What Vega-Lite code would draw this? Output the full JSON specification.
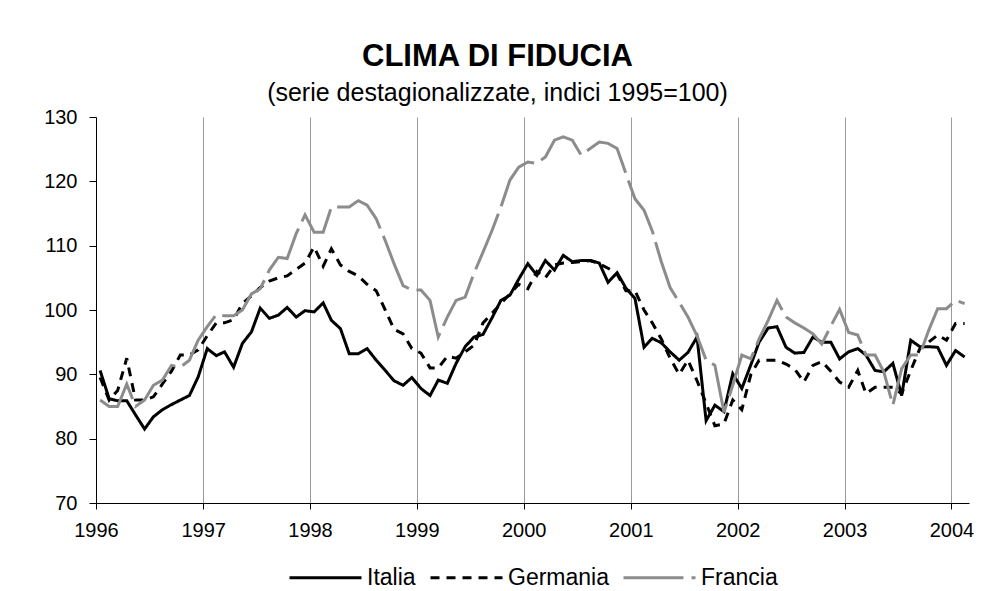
{
"$schema": "https://vega.github.io/schema/vega-lite/v6.json",
"width": 873,
"height": 386,
"padding": {"left": 43, "top": 41, "right": 16, "bottom": 0},
"background": "white",
"config": {"view": {"stroke": null}, "font": "Liberation Sans", "legend": {"layout": {"bottom": {"anchor": "middle"}}}},
"title": {"text": "CLIMA DI FIDUCIA", "subtitle": "(serie destagionalizzate, indici 1995=100)", "fontSize": 31, "fontWeight": "bold", "subtitleFontSize": 25, "subtitlePadding": 8, "color": "black", "subtitleColor": "black", "anchor": "middle", "frame": "group", "offset": 0, "dx": -35},
"data": {"values": [
{"mese":"1996-01-15","paese":"Italia","indice":90.6},{"mese":"1996-02-15","paese":"Italia","indice":86.2},{"mese":"1996-03-15","paese":"Italia","indice":85.9},{"mese":"1996-04-15","paese":"Italia","indice":85.9},{"mese":"1996-05-15","paese":"Italia","indice":83.7},{"mese":"1996-06-15","paese":"Italia","indice":81.5},{"mese":"1996-07-15","paese":"Italia","indice":83.4},{"mese":"1996-08-15","paese":"Italia","indice":84.5},{"mese":"1996-09-15","paese":"Italia","indice":85.3},{"mese":"1996-10-15","paese":"Italia","indice":86.0},{"mese":"1996-11-15","paese":"Italia","indice":86.7},{"mese":"1996-12-15","paese":"Italia","indice":89.6},
{"mese":"1997-01-15","paese":"Italia","indice":94.0},{"mese":"1997-02-15","paese":"Italia","indice":92.9},{"mese":"1997-03-15","paese":"Italia","indice":93.5},{"mese":"1997-04-15","paese":"Italia","indice":91.1},{"mese":"1997-05-15","paese":"Italia","indice":94.8},{"mese":"1997-06-15","paese":"Italia","indice":96.6},{"mese":"1997-07-15","paese":"Italia","indice":100.3},{"mese":"1997-08-15","paese":"Italia","indice":98.7},{"mese":"1997-09-15","paese":"Italia","indice":99.2},{"mese":"1997-10-15","paese":"Italia","indice":100.4},{"mese":"1997-11-15","paese":"Italia","indice":98.9},{"mese":"1997-12-15","paese":"Italia","indice":99.9},
{"mese":"1998-01-15","paese":"Italia","indice":99.7},{"mese":"1998-02-15","paese":"Italia","indice":101.1},{"mese":"1998-03-15","paese":"Italia","indice":98.4},{"mese":"1998-04-15","paese":"Italia","indice":97.1},{"mese":"1998-05-15","paese":"Italia","indice":93.2},{"mese":"1998-06-15","paese":"Italia","indice":93.2},{"mese":"1998-07-15","paese":"Italia","indice":94.0},{"mese":"1998-08-15","paese":"Italia","indice":92.2},{"mese":"1998-09-15","paese":"Italia","indice":90.6},{"mese":"1998-10-15","paese":"Italia","indice":89.0},{"mese":"1998-11-15","paese":"Italia","indice":88.3},{"mese":"1998-12-15","paese":"Italia","indice":89.5},
{"mese":"1999-01-15","paese":"Italia","indice":87.8},{"mese":"1999-02-15","paese":"Italia","indice":86.7},{"mese":"1999-03-15","paese":"Italia","indice":89.1},{"mese":"1999-04-15","paese":"Italia","indice":88.6},{"mese":"1999-05-15","paese":"Italia","indice":91.7},{"mese":"1999-06-15","paese":"Italia","indice":94.3},{"mese":"1999-07-15","paese":"Italia","indice":95.8},{"mese":"1999-08-15","paese":"Italia","indice":96.2},{"mese":"1999-09-15","paese":"Italia","indice":98.8},{"mese":"1999-10-15","paese":"Italia","indice":101.5},{"mese":"1999-11-15","paese":"Italia","indice":102.3},{"mese":"1999-12-15","paese":"Italia","indice":104.8},
{"mese":"2000-01-15","paese":"Italia","indice":107.2},{"mese":"2000-02-15","paese":"Italia","indice":105.4},{"mese":"2000-03-15","paese":"Italia","indice":107.7},{"mese":"2000-04-15","paese":"Italia","indice":106.2},{"mese":"2000-05-15","paese":"Italia","indice":108.5},{"mese":"2000-06-15","paese":"Italia","indice":107.5},{"mese":"2000-07-15","paese":"Italia","indice":107.7},{"mese":"2000-08-15","paese":"Italia","indice":107.7},{"mese":"2000-09-15","paese":"Italia","indice":107.3},{"mese":"2000-10-15","paese":"Italia","indice":104.3},{"mese":"2000-11-15","paese":"Italia","indice":105.8},{"mese":"2000-12-15","paese":"Italia","indice":103.4},
{"mese":"2001-01-15","paese":"Italia","indice":101.8},{"mese":"2001-02-15","paese":"Italia","indice":94.2},{"mese":"2001-03-15","paese":"Italia","indice":95.6},{"mese":"2001-04-15","paese":"Italia","indice":94.9},{"mese":"2001-05-15","paese":"Italia","indice":93.5},{"mese":"2001-06-15","paese":"Italia","indice":92.2},{"mese":"2001-07-15","paese":"Italia","indice":93.4},{"mese":"2001-08-15","paese":"Italia","indice":95.8},{"mese":"2001-09-15","paese":"Italia","indice":82.8},{"mese":"2001-10-15","paese":"Italia","indice":85.2},{"mese":"2001-11-15","paese":"Italia","indice":84.2},{"mese":"2001-12-15","paese":"Italia","indice":90.1},
{"mese":"2002-01-15","paese":"Italia","indice":87.8},{"mese":"2002-02-15","paese":"Italia","indice":91.5},{"mese":"2002-03-15","paese":"Italia","indice":95.0},{"mese":"2002-04-15","paese":"Italia","indice":97.2},{"mese":"2002-05-15","paese":"Italia","indice":97.4},{"mese":"2002-06-15","paese":"Italia","indice":94.2},{"mese":"2002-07-15","paese":"Italia","indice":93.3},{"mese":"2002-08-15","paese":"Italia","indice":93.4},{"mese":"2002-09-15","paese":"Italia","indice":95.8},{"mese":"2002-10-15","paese":"Italia","indice":95.0},{"mese":"2002-11-15","paese":"Italia","indice":95.0},{"mese":"2002-12-15","paese":"Italia","indice":92.4},
{"mese":"2003-01-15","paese":"Italia","indice":93.5},{"mese":"2003-02-15","paese":"Italia","indice":94.0},{"mese":"2003-03-15","paese":"Italia","indice":93.0},{"mese":"2003-04-15","paese":"Italia","indice":90.6},{"mese":"2003-05-15","paese":"Italia","indice":90.4},{"mese":"2003-06-15","paese":"Italia","indice":91.7},{"mese":"2003-07-15","paese":"Italia","indice":86.7},{"mese":"2003-08-15","paese":"Italia","indice":95.3},{"mese":"2003-09-15","paese":"Italia","indice":94.3},{"mese":"2003-10-15","paese":"Italia","indice":94.3},{"mese":"2003-11-15","paese":"Italia","indice":94.2},{"mese":"2003-12-15","paese":"Italia","indice":91.4},
{"mese":"2004-01-15","paese":"Italia","indice":93.7},{"mese":"2004-02-15","paese":"Italia","indice":92.7},
{"mese":"1996-01-15","paese":"Germania","indice":89.5},{"mese":"1996-02-15","paese":"Germania","indice":86.0},{"mese":"1996-03-15","paese":"Germania","indice":87.5},{"mese":"1996-04-15","paese":"Germania","indice":92.5},{"mese":"1996-05-15","paese":"Germania","indice":86.0},{"mese":"1996-06-15","paese":"Germania","indice":86.0},{"mese":"1996-07-15","paese":"Germania","indice":86.5},{"mese":"1996-08-15","paese":"Germania","indice":88.5},{"mese":"1996-09-15","paese":"Germania","indice":90.5},{"mese":"1996-10-15","paese":"Germania","indice":93.0},{"mese":"1996-11-15","paese":"Germania","indice":93.0},{"mese":"1996-12-15","paese":"Germania","indice":93.8},
{"mese":"1997-01-15","paese":"Germania","indice":96.0},{"mese":"1997-02-15","paese":"Germania","indice":98.0},{"mese":"1997-03-15","paese":"Germania","indice":98.0},{"mese":"1997-04-15","paese":"Germania","indice":98.5},{"mese":"1997-05-15","paese":"Germania","indice":101.0},{"mese":"1997-06-15","paese":"Germania","indice":102.2},{"mese":"1997-07-15","paese":"Germania","indice":103.5},{"mese":"1997-08-15","paese":"Germania","indice":104.5},{"mese":"1997-09-15","paese":"Germania","indice":105.0},{"mese":"1997-10-15","paese":"Germania","indice":105.3},{"mese":"1997-11-15","paese":"Germania","indice":106.3},{"mese":"1997-12-15","paese":"Germania","indice":107.3},
{"mese":"1998-01-15","paese":"Germania","indice":109.8},{"mese":"1998-02-15","paese":"Germania","indice":106.8},{"mese":"1998-03-15","paese":"Germania","indice":109.5},{"mese":"1998-04-15","paese":"Germania","indice":107.0},{"mese":"1998-05-15","paese":"Germania","indice":106.0},{"mese":"1998-06-15","paese":"Germania","indice":105.3},{"mese":"1998-07-15","paese":"Germania","indice":104.0},{"mese":"1998-08-15","paese":"Germania","indice":103.0},{"mese":"1998-09-15","paese":"Germania","indice":100.0},{"mese":"1998-10-15","paese":"Germania","indice":97.0},{"mese":"1998-11-15","paese":"Germania","indice":96.3},{"mese":"1998-12-15","paese":"Germania","indice":94.0},
{"mese":"1999-01-15","paese":"Germania","indice":93.3},{"mese":"1999-02-15","paese":"Germania","indice":91.0},{"mese":"1999-03-15","paese":"Germania","indice":91.0},{"mese":"1999-04-15","paese":"Germania","indice":92.8},{"mese":"1999-05-15","paese":"Germania","indice":92.5},{"mese":"1999-06-15","paese":"Germania","indice":93.5},{"mese":"1999-07-15","paese":"Germania","indice":94.5},{"mese":"1999-08-15","paese":"Germania","indice":98.0},{"mese":"1999-09-15","paese":"Germania","indice":99.5},{"mese":"1999-10-15","paese":"Germania","indice":101.0},{"mese":"1999-11-15","paese":"Germania","indice":102.5},{"mese":"1999-12-15","paese":"Germania","indice":104.0},
{"mese":"2000-01-15","paese":"Germania","indice":103.3},{"mese":"2000-02-15","paese":"Germania","indice":106.0},{"mese":"2000-03-15","paese":"Germania","indice":105.0},{"mese":"2000-04-15","paese":"Germania","indice":107.0},{"mese":"2000-05-15","paese":"Germania","indice":107.3},{"mese":"2000-06-15","paese":"Germania","indice":107.4},{"mese":"2000-07-15","paese":"Germania","indice":107.5},{"mese":"2000-08-15","paese":"Germania","indice":107.7},{"mese":"2000-09-15","paese":"Germania","indice":107.2},{"mese":"2000-10-15","paese":"Germania","indice":106.5},{"mese":"2000-11-15","paese":"Germania","indice":105.6},{"mese":"2000-12-15","paese":"Germania","indice":103.0},
{"mese":"2001-01-15","paese":"Germania","indice":103.0},{"mese":"2001-02-15","paese":"Germania","indice":100.0},{"mese":"2001-03-15","paese":"Germania","indice":98.0},{"mese":"2001-04-15","paese":"Germania","indice":95.5},{"mese":"2001-05-15","paese":"Germania","indice":92.5},{"mese":"2001-06-15","paese":"Germania","indice":90.0},{"mese":"2001-07-15","paese":"Germania","indice":92.2},{"mese":"2001-08-15","paese":"Germania","indice":89.0},{"mese":"2001-09-15","paese":"Germania","indice":85.5},{"mese":"2001-10-15","paese":"Germania","indice":82.0},{"mese":"2001-11-15","paese":"Germania","indice":82.3},{"mese":"2001-12-15","paese":"Germania","indice":86.0},
{"mese":"2002-01-15","paese":"Germania","indice":84.5},{"mese":"2002-02-15","paese":"Germania","indice":90.0},{"mese":"2002-03-15","paese":"Germania","indice":92.2},{"mese":"2002-04-15","paese":"Germania","indice":92.2},{"mese":"2002-05-15","paese":"Germania","indice":92.2},{"mese":"2002-06-15","paese":"Germania","indice":91.6},{"mese":"2002-07-15","paese":"Germania","indice":90.8},{"mese":"2002-08-15","paese":"Germania","indice":88.8},{"mese":"2002-09-15","paese":"Germania","indice":91.4},{"mese":"2002-10-15","paese":"Germania","indice":92.0},{"mese":"2002-11-15","paese":"Germania","indice":90.5},{"mese":"2002-12-15","paese":"Germania","indice":88.8},
{"mese":"2003-01-15","paese":"Germania","indice":88.0},{"mese":"2003-02-15","paese":"Germania","indice":90.6},{"mese":"2003-03-15","paese":"Germania","indice":87.0},{"mese":"2003-04-15","paese":"Germania","indice":88.0},{"mese":"2003-05-15","paese":"Germania","indice":88.0},{"mese":"2003-06-15","paese":"Germania","indice":88.0},{"mese":"2003-07-15","paese":"Germania","indice":87.0},{"mese":"2003-08-15","paese":"Germania","indice":90.6},{"mese":"2003-09-15","paese":"Germania","indice":94.0},{"mese":"2003-10-15","paese":"Germania","indice":95.0},{"mese":"2003-11-15","paese":"Germania","indice":96.1},{"mese":"2003-12-15","paese":"Germania","indice":95.3},
{"mese":"2004-01-15","paese":"Germania","indice":97.9},{"mese":"2004-02-15","paese":"Germania","indice":97.9},
{"mese":"1996-01-15","paese":"Francia","indice":86.0},{"mese":"1996-02-15","paese":"Francia","indice":85.0},{"mese":"1996-03-15","paese":"Francia","indice":85.0},{"mese":"1996-04-15","paese":"Francia","indice":88.5},{"mese":"1996-05-15","paese":"Francia","indice":85.0},{"mese":"1996-06-15","paese":"Francia","indice":86.0},{"mese":"1996-07-15","paese":"Francia","indice":88.3},{"mese":"1996-08-15","paese":"Francia","indice":89.1},{"mese":"1996-09-15","paese":"Francia","indice":91.4},{"mese":"1996-10-15","paese":"Francia","indice":91.1},{"mese":"1996-11-15","paese":"Francia","indice":92.2},{"mese":"1996-12-15","paese":"Francia","indice":95.3},
{"mese":"1997-01-15","paese":"Francia","indice":97.4},{"mese":"1997-02-15","paese":"Francia","indice":99.3},{"mese":"1997-03-15","paese":"Francia","indice":99.1},{"mese":"1997-04-15","paese":"Francia","indice":99.1},{"mese":"1997-05-15","paese":"Francia","indice":100.0},{"mese":"1997-06-15","paese":"Francia","indice":102.5},{"mese":"1997-07-15","paese":"Francia","indice":103.3},{"mese":"1997-08-15","paese":"Francia","indice":106.2},{"mese":"1997-09-15","paese":"Francia","indice":108.2},{"mese":"1997-10-15","paese":"Francia","indice":108.0},{"mese":"1997-11-15","paese":"Francia","indice":111.9},{"mese":"1997-12-15","paese":"Francia","indice":114.8},
{"mese":"1998-01-15","paese":"Francia","indice":112.1},{"mese":"1998-02-15","paese":"Francia","indice":112.1},{"mese":"1998-03-15","paese":"Francia","indice":116.0},{"mese":"1998-04-15","paese":"Francia","indice":116.0},{"mese":"1998-05-15","paese":"Francia","indice":116.0},{"mese":"1998-06-15","paese":"Francia","indice":117.0},{"mese":"1998-07-15","paese":"Francia","indice":116.3},{"mese":"1998-08-15","paese":"Francia","indice":114.2},{"mese":"1998-09-15","paese":"Francia","indice":110.8},{"mese":"1998-10-15","paese":"Francia","indice":107.2},{"mese":"1998-11-15","paese":"Francia","indice":103.8},{"mese":"1998-12-15","paese":"Francia","indice":103.1},
{"mese":"1999-01-15","paese":"Francia","indice":103.1},{"mese":"1999-02-15","paese":"Francia","indice":101.5},{"mese":"1999-03-15","paese":"Francia","indice":95.8},{"mese":"1999-04-15","paese":"Francia","indice":98.9},{"mese":"1999-05-15","paese":"Francia","indice":101.5},{"mese":"1999-06-15","paese":"Francia","indice":102.0},{"mese":"1999-07-15","paese":"Francia","indice":105.7},{"mese":"1999-08-15","paese":"Francia","indice":109.0},{"mese":"1999-09-15","paese":"Francia","indice":112.4},{"mese":"1999-10-15","paese":"Francia","indice":116.0},{"mese":"1999-11-15","paese":"Francia","indice":120.2},{"mese":"1999-12-15","paese":"Francia","indice":122.2},
{"mese":"2000-01-15","paese":"Francia","indice":123.0},{"mese":"2000-02-15","paese":"Francia","indice":122.8},{"mese":"2000-03-15","paese":"Francia","indice":123.8},{"mese":"2000-04-15","paese":"Francia","indice":126.4},{"mese":"2000-05-15","paese":"Francia","indice":126.9},{"mese":"2000-06-15","paese":"Francia","indice":126.4},{"mese":"2000-07-15","paese":"Francia","indice":124.1},{"mese":"2000-08-15","paese":"Francia","indice":125.1},{"mese":"2000-09-15","paese":"Francia","indice":126.1},{"mese":"2000-10-15","paese":"Francia","indice":125.9},{"mese":"2000-11-15","paese":"Francia","indice":125.1},{"mese":"2000-12-15","paese":"Francia","indice":121.2},
{"mese":"2001-01-15","paese":"Francia","indice":117.3},{"mese":"2001-02-15","paese":"Francia","indice":115.5},{"mese":"2001-03-15","paese":"Francia","indice":112.3},{"mese":"2001-04-15","paese":"Francia","indice":107.5},{"mese":"2001-05-15","paese":"Francia","indice":103.5},{"mese":"2001-06-15","paese":"Francia","indice":101.2},{"mese":"2001-07-15","paese":"Francia","indice":98.9},{"mese":"2001-08-15","paese":"Francia","indice":96.0},{"mese":"2001-09-15","paese":"Francia","indice":92.2},{"mese":"2001-10-15","paese":"Francia","indice":91.4},{"mese":"2001-11-15","paese":"Francia","indice":84.1},{"mese":"2001-12-15","paese":"Francia","indice":88.3},
{"mese":"2002-01-15","paese":"Francia","indice":93.0},{"mese":"2002-02-15","paese":"Francia","indice":92.4},{"mese":"2002-03-15","paese":"Francia","indice":95.5},{"mese":"2002-04-15","paese":"Francia","indice":98.4},{"mese":"2002-05-15","paese":"Francia","indice":101.5},{"mese":"2002-06-15","paese":"Francia","indice":98.9},{"mese":"2002-07-15","paese":"Francia","indice":98.0},{"mese":"2002-08-15","paese":"Francia","indice":97.2},{"mese":"2002-09-15","paese":"Francia","indice":96.3},{"mese":"2002-10-15","paese":"Francia","indice":94.7},{"mese":"2002-11-15","paese":"Francia","indice":97.5},{"mese":"2002-12-15","paese":"Francia","indice":100.1},
{"mese":"2003-01-15","paese":"Francia","indice":96.5},{"mese":"2003-02-15","paese":"Francia","indice":96.1},{"mese":"2003-03-15","paese":"Francia","indice":93.0},{"mese":"2003-04-15","paese":"Francia","indice":93.0},{"mese":"2003-05-15","paese":"Francia","indice":90.4},{"mese":"2003-06-15","paese":"Francia","indice":85.2},{"mese":"2003-07-15","paese":"Francia","indice":90.9},{"mese":"2003-08-15","paese":"Francia","indice":93.0},{"mese":"2003-09-15","paese":"Francia","indice":93.0},{"mese":"2003-10-15","paese":"Francia","indice":96.8},{"mese":"2003-11-15","paese":"Francia","indice":100.2},{"mese":"2003-12-15","paese":"Francia","indice":100.2},
{"mese":"2004-01-15","paese":"Francia","indice":101.5},{"mese":"2004-02-15","paese":"Francia","indice":101.0}
]},
"mark": {"type": "line", "strokeWidth": 3, "strokeJoin": "miter", "strokeCap": "butt"},
"encoding": {
  "x": {"field": "mese", "type": "temporal",
        "scale": {"type": "utc", "domain": [{"year": 1996, "month": 1, "date": 1, "utc": true}, {"year": 2004, "month": 3, "date": 1, "utc": true}], "nice": false},
        "axis": {"title": null, "values": [{"year": 1996, "utc": true}, {"year": 1997, "utc": true}, {"year": 1998, "utc": true}, {"year": 1999, "utc": true}, {"year": 2000, "utc": true}, {"year": 2001, "utc": true}, {"year": 2002, "utc": true}, {"year": 2003, "utc": true}, {"year": 2004, "utc": true}],
                 "format": "%Y", "grid": true, "gridColor": "#9a9a9a", "gridWidth": 1, "domainColor": "black", "domainWidth": 1, "tickColor": "black", "tickSize": 6, "labelFontSize": 20, "labelColor": "black", "labelPadding": 11, "labelFlush": false, "labelOverlap": false}},
  "y": {"field": "indice", "type": "quantitative",
        "scale": {"domain": [70, 130], "nice": false, "zero": false},
        "axis": {"title": null, "values": [70, 80, 90, 100, 110, 120, 130], "grid": false, "domainColor": "black", "domainWidth": 1, "tickColor": "black", "tickSize": 7, "labelFontSize": 20, "labelColor": "black", "labelPadding": 12}},
  "color": {"field": "paese", "type": "nominal",
        "scale": {"domain": ["Italia", "Germania", "Francia"], "range": ["#000000", "#000000", "#8c8c8c"]},
        "legend": {"title": null, "orient": "bottom", "direction": "horizontal", "symbolType": "stroke", "symbolSize": 5184, "symbolStrokeWidth": 3, "labelFontSize": 23, "labelColor": "black", "labelOffset": 4, "columnPadding": 8, "offset": 0, "padding": 0}},
  "strokeDash": {"field": "paese", "type": "nominal",
        "scale": {"domain": ["Italia", "Germania", "Francia"], "range": [[1, 0], [9, 7], [60, 8]]},
        "legend": {"title": null, "orient": "bottom", "direction": "horizontal", "symbolType": "stroke", "symbolSize": 5184, "symbolStrokeWidth": 3, "labelFontSize": 23, "labelColor": "black", "labelOffset": 4, "columnPadding": 8, "offset": 0, "padding": 0}}
}
}
